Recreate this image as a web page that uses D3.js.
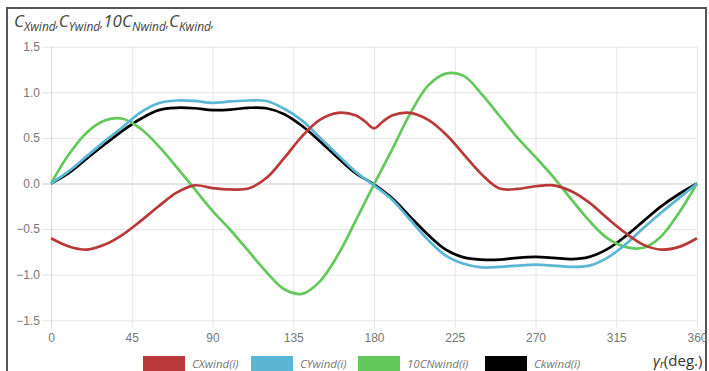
<!DOCTYPE html>
<html>
<head>
<meta charset="utf-8">
<script src="https://cdn.jsdelivr.net/npm/d3@7/dist/d3.min.js"></script>
<style>
  body { margin: 0; background: #fff; }
  svg { display: block; }
</style>
</head>
<body>
<div id="chart"></div>
<script>
// wind coefficients against relative wind angle (deg)
const angles = [0, 10, 20, 30, 40, 50, 60, 70, 80, 90, 100, 110, 120, 130, 140, 150, 160, 170, 180,
  190, 200, 210, 220, 230, 240, 250, 260, 270, 280, 290, 300, 310, 320, 330, 340, 350, 360]
// CX has two extra points round the kink at 180
const anglesCX = [0, 10, 20, 30, 40, 50, 60, 70, 80, 90, 100, 110, 120, 130, 140, 150, 160, 170, 175, 180,
  185, 190, 200, 210, 220, 230, 240, 250, 260, 270, 280, 290, 300, 310, 320, 330, 340, 350, 360]

const cxWind = [-0.60, -0.69, -0.725, -0.67, -0.56, -0.41, -0.25, -0.10, -0.02, -0.05, -0.065, -0.055, 0.06,
  0.28, 0.52, 0.70, 0.775, 0.745, 0.68, 0.605, 0.68, 0.745, 0.775, 0.70, 0.54, 0.32, 0.10, -0.055, -0.06,
  -0.03, -0.02, -0.085, -0.21, -0.38, -0.54, -0.67, -0.725, -0.695, -0.60]
const cyWind = [0, 0.135, 0.30, 0.465, 0.62, 0.78, 0.88, 0.91, 0.905, 0.885, 0.90, 0.91, 0.905, 0.82, 0.69,
  0.50, 0.31, 0.125, -0.02, -0.175, -0.395, -0.615, -0.79, -0.88, -0.92, -0.915, -0.90, -0.89, -0.90, -0.915,
  -0.90, -0.815, -0.67, -0.49, -0.32, -0.16, 0]
const cn10Wind = [0, 0.32, 0.56, 0.69, 0.71, 0.60, 0.41, 0.18, -0.06, -0.30, -0.51, -0.74, -0.97, -1.16, -1.21,
  -1.07, -0.78, -0.40, -0.01, 0.37, 0.76, 1.07, 1.205, 1.18, 0.98, 0.74, 0.50, 0.29, 0.07, -0.175, -0.41,
  -0.60, -0.695, -0.705, -0.58, -0.32, 0]
const ckWind = [0, 0.117, 0.275, 0.43, 0.58, 0.71, 0.805, 0.83, 0.825, 0.805, 0.81, 0.83, 0.825, 0.76, 0.63,
  0.46, 0.28, 0.11, -0.01, -0.16, -0.36, -0.56, -0.725, -0.81, -0.835, -0.835, -0.815, -0.805, -0.815, -0.83,
  -0.805, -0.72, -0.58, -0.415, -0.25, -0.115, 0]

const xTicks = [0, 45, 90, 135, 180, 225, 270, 315, 360]
const yTicks = [-1.5, -1.0, -0.5, 0, 0.5, 1.0, 1.5]
const legendNames = ['CXwind(i)', 'CYwind(i)', '10CNwind(i)', 'Ckwind(i)']
const colors = ['#b9393b', '#5ab6d3', '#62c95a', '#000000']

const W = 709, H = 371
const plotL = 51, plotR = 697, plotT = 46.7, plotB = 320.3

const svg = d3.select('#chart').append('svg').attr('width', W).attr('height', H)

const x = d3.scaleLinear().domain([0, 360]).range([plotL, plotR])
const y = d3.scaleLinear().domain([-1.5, 1.5]).range([plotB, plotT])

// outer frame
svg.append('rect').attr('x', 7).attr('y', 8).attr('width', 699).attr('height', 400)
  .attr('fill', 'none').attr('stroke', '#555').attr('stroke-width', 2)

// title with subscripts
const title = svg.append('text').attr('x', 14).attr('y', 27)
  .attr('font-family', 'Open Sans, sans-serif').attr('font-style', 'italic').attr('fill', '#444')
const parts = [['C', 'Xwind', ','], ['C', 'Ywind', ','], ['10C', 'Nwind', ','], ['C', 'Kwind', ',']]
parts.forEach(p => {
  title.append('tspan').attr('font-size', 17).text(p[0])
  title.append('tspan').attr('font-size', 12).attr('dy', 4).text(p[1])
  title.append('tspan').attr('font-size', 12).attr('dy', -4).text(p[2])
})

// y axis + horizontal grid
const yAxis = svg.append('g').attr('transform', `translate(${plotL - 9},0)`)
  .call(d3.axisLeft(y).tickValues(yTicks).tickFormat(d3.format('.1f')).tickSize(-(plotR - plotL + 9)).tickPadding(2))
yAxis.select('.domain').remove()
yAxis.selectAll('line').attr('stroke', d => d === 0 ? '#c9c9c9' : '#e6e6e6')
yAxis.selectAll('text').attr('fill', '#777').attr('font-size', 12).attr('font-family', 'Liberation Sans, Arial, sans-serif')

// x axis + vertical grid
const xAxis = svg.append('g').attr('transform', `translate(0,${plotB + 8})`)
  .call(d3.axisBottom(x).tickValues(xTicks).tickSize(-(plotB + 8 - plotT)).tickPadding(5))
xAxis.select('.domain').remove()
xAxis.selectAll('line').attr('stroke', d => d === 0 ? '#d6d6d6' : '#e6e6e6')
xAxis.selectAll('text').attr('fill', '#777').attr('font-size', 12).attr('font-family', 'Liberation Sans, Arial, sans-serif')

// series lines, first dataset drawn last (on top)
const series = [
  { xs: anglesCX, ys: cxWind },
  { xs: angles, ys: cyWind },
  { xs: angles, ys: cn10Wind },
  { xs: angles, ys: ckWind }
]
const line = d3.line().x(d => x(d[0])).y(d => y(d[1])).curve(d3.curveCatmullRom)
const lineGroup = svg.append('g')
series.slice().reverse().forEach((s, i) => {
  const idx = series.length - 1 - i
  lineGroup.append('path')
    .datum(s.xs.map((a, j) => [a, s.ys[j]]))
    .attr('d', line)
    .attr('fill', 'none')
    .attr('stroke', colors[idx])
    .attr('stroke-width', 2.7)
    .attr('stroke-linejoin', 'round')
})

// legend
const legendX = [143, 251, 358, 485]
const legend = svg.append('g')
legendNames.forEach((name, i) => {
  legend.append('rect').attr('x', legendX[i]).attr('y', 356).attr('width', 42).attr('height', 16)
    .attr('fill', colors[i])
  legend.append('text').attr('x', legendX[i] + 49).attr('y', 367.5)
    .attr('font-family', 'Open Sans, sans-serif').attr('font-style', 'italic')
    .attr('font-size', 11.5).attr('fill', '#777').text(name)
})

// axis title
const xt = svg.append('text').attr('x', 653).attr('y', 366)
  .attr('font-family', 'Open Sans, sans-serif').attr('fill', '#333')
xt.append('tspan').attr('font-size', 15).attr('font-style', 'italic').text('γ')
xt.append('tspan').attr('font-size', 10).attr('font-style', 'italic').attr('dy', 2).text('r')
xt.append('tspan').attr('font-size', 15).attr('dy', -2).text('(deg.)')
</script>
</body>
</html>
